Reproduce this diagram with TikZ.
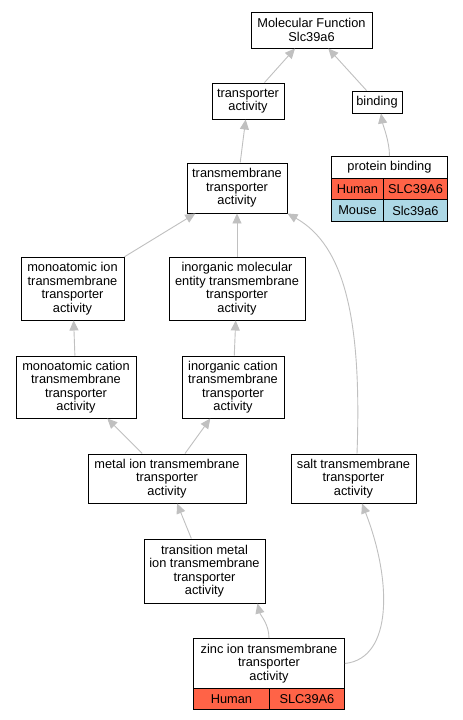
\documentclass[tikz,border=0pt]{standalone}
\usepackage{fontspec}
\setmainfont{Liberation Sans}
\usetikzlibrary{arrows.meta}
\definecolor{edgegray}{HTML}{C0C0C0}
\definecolor{human}{HTML}{FF6347}
\definecolor{mouse}{HTML}{ADD8E6}
\begin{document}
\begin{tikzpicture}[x=1pt,y=-1pt,
  font=\fontsize{12.8}{13.5}\selectfont,
  box/.style={draw=black, line width=0.95pt, fill=white, inner sep=0pt, align=center},
  cell/.style={draw=black, line width=0.95pt, inner sep=0pt, anchor=north west, align=center},
  edge/.style={draw=edgegray, line width=0.9pt, -{Triangle[length=10pt,width=9pt]}}]
\useasboundingbox (0,0) rectangle (463,720);
\fill[white] (0,0) rectangle (463,720);

\node[box, minimum width=121pt, minimum height=36pt] (mf) at (311.5,30) {Molecular Function\\Slc39a6};
\node[box, minimum width=72pt, minimum height=36pt] (ta) at (248,101) {transporter\\activity};
\node[box, minimum width=50pt, minimum height=22pt] (bind) at (377,102) {binding};
\node[box, minimum width=100pt, minimum height=50pt] (tm) at (237,188) {transmembrane\\transporter\\activity};
\node[box, minimum width=103pt, minimum height=63pt] (mi) at (72.5,288.5) {monoatomic ion\\transmembrane\\transporter\\activity};
\node[box, minimum width=136pt, minimum height=63pt] (im) at (237,288.5) {inorganic molecular\\entity transmembrane\\transporter\\activity};
\node[box, minimum width=120pt, minimum height=62pt] (mc) at (76,387) {monoatomic cation\\transmembrane\\transporter\\activity};
\node[box, minimum width=102pt, minimum height=62pt] (ic) at (233,387) {inorganic cation\\transmembrane\\transporter\\activity};
\node[box, minimum width=158pt, minimum height=49pt] (metal) at (167,478.5) {metal ion transmembrane\\transporter\\activity};
\node[box, minimum width=125pt, minimum height=49pt] (salt) at (353.5,478.5) {salt transmembrane\\transporter\\activity};
\node[box, minimum width=121pt, minimum height=64pt] (tr) at (204.5,571) {transition metal\\ion transmembrane\\transporter\\activity};

% protein binding table
\node[cell, fill=white, minimum width=116pt, minimum height=22pt] (pbh) at (331,156) {protein binding};
\node[cell, fill=human, minimum width=52pt, minimum height=21pt] (pbhu) at (331,178) {Human};
\node[cell, fill=human, minimum width=64pt, minimum height=21pt] (pbhg) at (383,178) {SLC39A6};
\node[cell, fill=mouse, minimum width=52pt, minimum height=22pt] (pbmo) at (331,199) {Mouse};
\node[cell, fill=mouse, minimum width=64pt, minimum height=22pt] (pbmg) at (383,199) {Slc39a6};

% zinc table
\node[cell, fill=white, minimum width=151pt, minimum height=50pt] (zh) at (193,638) {zinc ion transmembrane\\transporter\\activity};
\node[cell, fill=human, minimum width=76pt, minimum height=21pt] (zhu) at (193,688) {Human};
\node[cell, fill=human, minimum width=75pt, minimum height=21pt] (zhg) at (269,688) {SLC39A6};

% edges
\draw[edge] (ta) -- (mf);
\draw[edge] (bind) -- (mf);
\draw[edge] (tm) -- (ta);
\draw[edge] (pbh.north) .. controls +(0,-15) and +(2,12) .. ([xshift=4pt]bind.south);
\draw[edge] (mi) -- (tm);
\draw[edge] (im) -- (tm);
\draw[edge] (mc) -- (mi);
\draw[edge] (ic) -- (im);
\draw[edge] (metal) -- (mc);
\draw[edge] (metal) -- (ic);
\draw[edge] ([xshift=3.5pt]salt.north) .. controls +(5,-134) and +(57,32) .. (tm.south east);
\draw[edge] (tr) -- (metal);
\draw[edge] (zh.north) .. controls +(0,-14) and +(3,12) .. ([xshift=53pt]tr.south);
\draw[edge] (zh.east) .. controls +(48,-5) and +(30,77) .. ([xshift=8.5pt]salt.south);
\end{tikzpicture}
\end{document}
